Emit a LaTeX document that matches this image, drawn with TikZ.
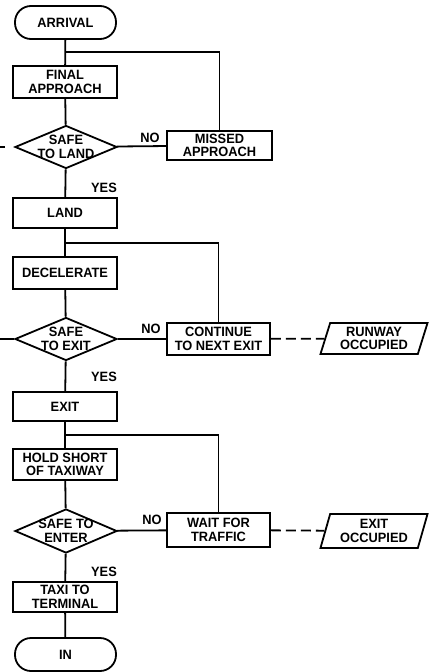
\documentclass[tikz,border=0pt]{standalone}
\usepackage{fontspec}
\newfontfamily\chartfont{Liberation Sans}[FakeStretch=0.95]
\usetikzlibrary{shapes.geometric}

\begin{document}
\begin{tikzpicture}[x=1pt, y=-1pt, line width=1.8pt,
  every node/.style={font=\chartfont\bfseries\fontsize{13.5}{13.6}\selectfont, align=center},
  box/.style={draw, minimum width=104pt, minimum height=31pt, inner sep=0pt},
  term/.style={box, minimum width=101pt, minimum height=33pt, rounded corners=16pt},
  query/.style={draw, diamond, aspect=2.37, minimum width=102pt, minimum height=43pt, inner sep=-8pt},
  note/.style={draw, trapezium, trapezium left angle=72, trapezium right angle=108,
    trapezium stretches=true, minimum width=108pt, minimum height=31pt, inner sep=0pt},
  flag/.style={inner sep=0pt},
  link/.style={dash pattern=on 10pt off 5pt}]

\useasboundingbox (0,0) rectangle (429,672);

\node [term] (arrival) at (65.5, 22.5) {ARRIVAL};
\node [box, minimum height=32pt] (final) at (65, 82) {FINAL\\APPROACH};
\node [query] (landq) at (66, 147) {SAFE\\TO LAND};
\node [box, minimum width=105pt, minimum height=29pt] (missed) at (219.5, 145.5) {MISSED\\APPROACH};
\node [box, minimum height=30pt] (land) at (65, 213) {LAND};
\node [box, minimum height=32pt] (decel) at (65, 273) {DECELERATE};
\node [query] (exitq) at (66, 339) {SAFE\\TO EXIT};
\node [box, minimum width=103pt, minimum height=32pt] (continue) at (218.5, 339) {CONTINUE\\TO NEXT EXIT};
\node [note] (runway) at (374, 338.5) {RUNWAY\\OCCUPIED};
\node [box, minimum height=29pt] (exit) at (65, 406.5) {EXIT};
\node [box] (hold) at (65, 464.5) {HOLD SHORT\\OF TAXIWAY};
\node [query, minimum height=44pt] (enterq) at (66, 531) {SAFE TO\\ENTER};
\node [box, minimum width=103pt, minimum height=34pt] (wait) at (218.5, 530) {WAIT FOR\\TRAFFIC};
\node [note, minimum height=34pt] (occupied) at (374, 531) {EXIT\\OCCUPIED};
\node [box, minimum height=30pt] (taxi) at (65, 597) {TAXI TO\\TERMINAL};
\node [term] (in) at (65.5, 654.5) {IN};

\coordinate (j1) at (65.5, 52);
\coordinate (j2) at (65.5, 243);
\coordinate (j3) at (65.5, 435);
\coordinate (cut1) at (0, 147);
\coordinate (cut2) at (0, 339);

\node [flag] (no1) at (150, 138) {NO};
\node [flag] (no2) at (151, 329) {NO};
\node [flag] (no3) at (152, 520) {NO};
\node [flag] (yes1) at (104, 188) {YES};
\node [flag] (yes2) at (104, 377) {YES};
\node [flag] (yes3) at (104, 572) {YES};

\draw (arrival) -- (final);
\draw (missed.north) |- (j1);
\draw (final) -- (landq);
\draw (landq) -- (missed);
\draw (landq) -- (land);
\draw [dash pattern=on 0pt off 9pt on 6pt] (landq.west) -- (cut1);

\draw (land) -- (decel);
\draw (continue.north) |- (j2);
\draw (decel) -- (exitq);
\draw (exitq) -- (continue);
\draw (exitq) -- (exit);
\draw (exitq.west) -- (cut2);
\draw [link] (continue) -- (runway);

\draw (exit) -- (hold);
\draw (wait.north) |- (j3);
\draw (hold) -- (enterq);
\draw (enterq) -- (wait);
\draw (enterq) -- (taxi);
\draw [link] (wait) -- (occupied);
\draw (taxi) -- (in);

\end{tikzpicture}
\end{document}
